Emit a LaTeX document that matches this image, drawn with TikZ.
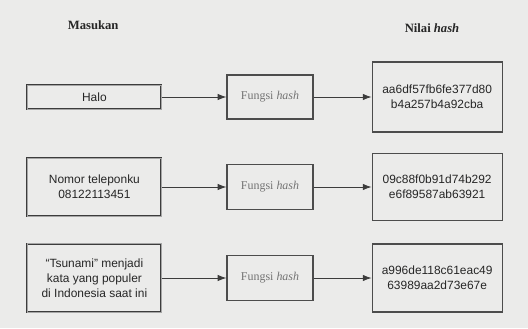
\documentclass[tikz,border=0pt]{standalone}
\usepackage{fontspec}
\setmainfont{Liberation Serif}
\setsansfont{Liberation Sans}
\usetikzlibrary{arrows.meta,positioning}
\definecolor{paper}{HTML}{EBEBEA}
\definecolor{ink}{HTML}{3C3C3C}
\tikzset{
  header/.style={font=\bfseries\fontsize{9}{11}\selectfont, text=black!85},
  inbox/.style={rectangle, draw=ink, double=black!35, double distance=0.5pt,
    fill=paper, text=black!85, font=\sffamily\fontsize{8.5}{10.5}\selectfont,
    align=center, minimum width=3.35cm, inner sep=3pt},
  fnbox/.style={rectangle, draw=black!70, thick, fill=paper, text=black!55,
    font=\fontsize{8.5}{10.5}\selectfont, align=center,
    minimum width=2.15cm, inner sep=3pt},
  hashbox/.style={rectangle, draw=black!70, thick, fill=paper, text=black!85,
    font=\sffamily\fontsize{8.5}{10.5}\selectfont, align=center,
    minimum width=3.25cm, inner sep=3pt},
  arr/.style={-{Latex[length=2.2mm,width=1.6mm]}, semithick, ink},
}
\begin{document}
\begin{tikzpicture}[node distance=1.6cm]

% ---------------- PAGE ----------------
\fill[paper] (0,0) rectangle (13.2,-8.2);
\useasboundingbox (0,0) rectangle (13.2,-8.2);

% ---------------- HEADERS ----------------
\node[header] (h-in)  at (2.33,-0.63) {Masukan};
\node[header] (h-out) at (10.8,-0.7) {Nilai \textit{hash}};

% ---------------- ROW 1 ----------------
\node[inbox, minimum height=0.6cm] (in-halo) at (2.36,-2.425) {Halo};
\node[fnbox, minimum height=1.1cm, right=1.62cm of in-halo] (fn-halo)
  {Fungsi \textit{hash}};
\node[hashbox, minimum height=1.75cm, right=1.45cm of fn-halo] (out-halo)
  {aa6df57fb6fe377d80\\b4a257b4a92cba};

% ---------------- ROW 2 ----------------
\node[inbox, minimum height=1.45cm] (in-nomor) at (2.36,-4.675)
  {Nomor teleponku\\08122113451};
\node[fnbox, minimum height=1.12cm, right=1.62cm of in-nomor] (fn-nomor)
  {Fungsi \textit{hash}};
\node[hashbox, minimum height=1.68cm, right=1.45cm of fn-nomor] (out-nomor)
  {09c88f0b91d74b292\\e6f89587ab63921};

% ---------------- ROW 3 ----------------
\node[inbox, minimum height=1.72cm] (in-tsunami) at (2.36,-6.95)
  {``Tsunami'' menjadi\\kata yang populer\\di Indonesia saat ini};
\node[fnbox, minimum height=1.12cm, right=1.62cm of in-tsunami] (fn-tsunami)
  {Fungsi \textit{hash}};
\node[hashbox, minimum height=1.7cm, right=1.45cm of fn-tsunami] (out-tsunami)
  {a996de118c61eac49\\63989aa2d73e67e};

% ================= ARROWS =================
\draw[arr] (in-halo)    -- (fn-halo);
\draw[arr] (fn-halo)    -- (out-halo);
\draw[arr] (in-nomor)   -- (fn-nomor);
\draw[arr] (fn-nomor)   -- (out-nomor);
\draw[arr] (in-tsunami) -- (fn-tsunami);
\draw[arr] (fn-tsunami) -- (out-tsunami);

\end{tikzpicture}
\end{document}
